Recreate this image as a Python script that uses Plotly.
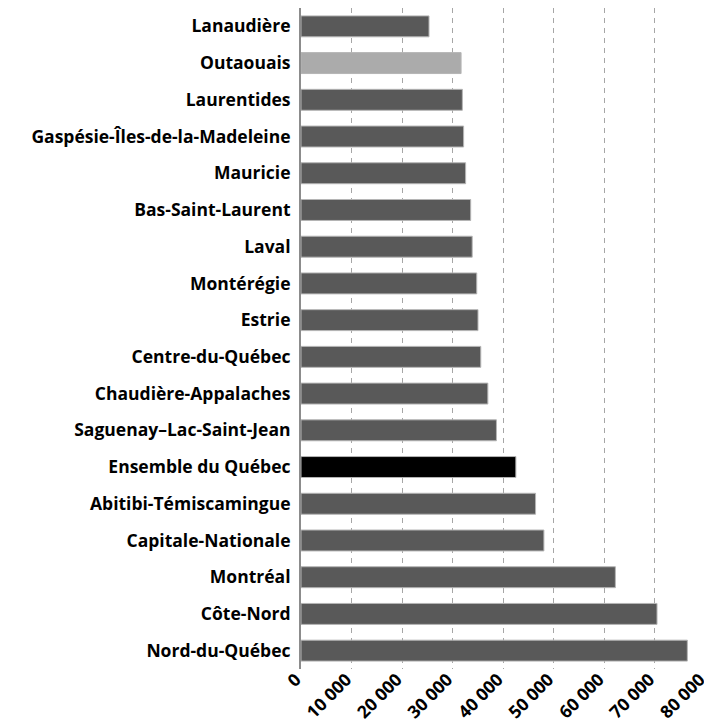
import plotly.graph_objects as go

regions = [
    "Lanaudière", "Outaouais", "Laurentides", "Gaspésie-Îles-de-la-Madeleine",
    "Mauricie", "Bas-Saint-Laurent", "Laval", "Montérégie", "Estrie",
    "Centre-du-Québec", "Chaudière-Appalaches", "Saguenay–Lac-Saint-Jean",
    "Ensemble du Québec", "Abitibi-Témiscamingue", "Capitale-Nationale",
    "Montréal", "Côte-Nord", "Nord-du-Québec",
]
values = [
    25350, 31700, 31950, 32200, 32600, 33600, 33900, 34800, 35050,
    35600, 37000, 38700, 42550, 46450, 48100, 62250, 70500, 76500,
]
tick_vals = [0, 10000, 20000, 30000, 40000, 50000, 60000, 70000, 80000]
tick_text = ["0", "10 000", "20 000", "30 000", "40 000", "50 000", "60 000", "70 000", "80 000"]

def color_for(name):
    if name == "Outaouais":
        return "#ABABAB"
    if name == "Ensemble du Québec":
        return "#000000"
    return "#595959"

colors = [color_for(r) for r in regions]

fig = go.Figure(go.Bar(
    x=values, y=regions, orientation="h",
    marker=dict(color=colors, line=dict(color="#B5B5B5", width=1)),
    width=0.57,
    hoverinfo="skip",
))

# page body has an 8px margin: figure is sized to fill the 712x723 window
fig.update_layout(
    width=704, height=715,
    margin=dict(l=293, r=7, t=0, b=54),
    plot_bgcolor="white", paper_bgcolor="white",
    showlegend=False,
    font=dict(family="Open Sans", size=17, color="#000000"),
)
fig.update_xaxes(
    range=[0, 80000], tickvals=tick_vals, ticktext=tick_text,
    tickangle=-45, tickfont=dict(family="Open Sans", size=17.5, color="#000000", weight="bold"),
    showgrid=True, gridcolor="#A6A6A6", gridwidth=1, griddash="5px,5px",
    zeroline=False, showline=False, ticks="", automargin=False,
    ticklabeloverflow="allow", ticklabelshift=-5, ticklabelstandoff=-4,
)
fig.update_yaxes(
    autorange="reversed",
    tickfont=dict(family="Open Sans", size=17.5, color="#000000", weight="bold"),
    showline=True, linecolor="#8C8C8C", linewidth=2,
    showgrid=False, ticks="", ticklabelstandoff=5, automargin=False,
)

fig.write_html("out.html")
